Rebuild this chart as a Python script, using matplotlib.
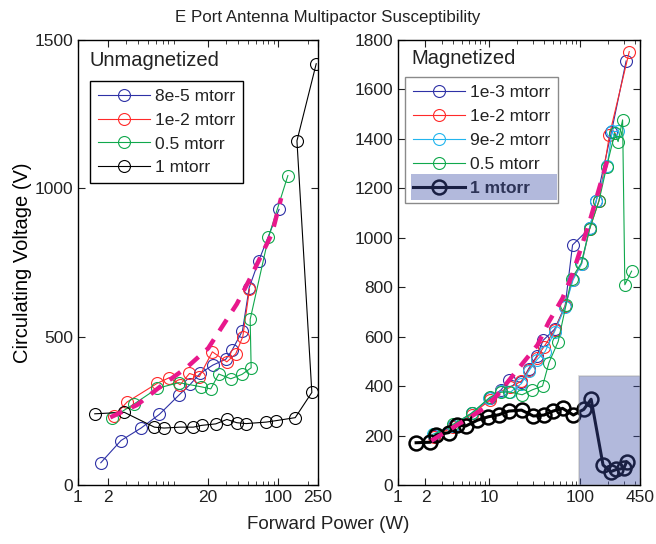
import matplotlib
matplotlib.use('Agg')
import matplotlib.pyplot as plt
from matplotlib.patches import Rectangle
from matplotlib.ticker import NullFormatter

# ---- Unmagnetized (left panel), forward power (W) / voltage (V)
un_8e5_p = [1.69, 2.69, 4.27, 6.5, 10.2, 13.2, 16.6, 22.2, 30, 34.7, 44, 51.3, 64, 102]
un_8e5_v = [75, 150, 192, 238, 303, 339, 376, 404, 424, 455, 520, 665, 756, 929]

un_1e2_p = [2.3, 3.1, 6.2, 8.2, 10.5, 13, 16.3, 22, 30.7, 37.7, 44.3, 51.7]
un_1e2_v = [232, 280, 343, 362, 338, 376, 365, 449, 415, 442, 500, 660]

un_05_p = [2.2, 3.63, 6.21, 10.2, 17, 21.2, 25.5, 33.6, 43.6, 53.7, 52.5, 80, 125]
un_05_v = [227, 273, 326, 345, 331, 324, 374, 358, 373, 395, 558, 835, 1043]

un_1_p = [1.47, 2.9, 5.8, 7.24, 10.5, 14.2, 17.2, 23.8, 30.7, 38.6, 47.9, 75.9, 95.5, 148, 217, 154, 240]
un_1_v = [240, 245, 195, 192, 195, 195, 201, 206, 221, 210, 207, 212, 217, 227, 312, 1160, 1420]

un_fit_p = [2.1, 3.9, 6.6, 12.2, 20, 38.6, 52.5, 87, 107]
un_fit_v = [228, 270, 331, 396, 461, 610, 697, 849, 967]

# ---- Magnetized (right panel)
mg_1e3_p = [2.5, 4.0, 6.4, 10.3, 13.5, 16.5, 22.5, 27, 33, 39, 52, 68, 82, 126, 149, 219, 317]
mg_1e3_v = [200, 240, 290, 350, 385, 425, 415, 470, 520, 585, 630, 725, 971, 1038, 1150, 1429, 1715]

mg_1e2_p = [2.5, 4.0, 6.4, 10.3, 13.5, 17, 22.5, 27, 33, 40, 52, 68, 82, 103, 126, 160, 208, 343]
mg_1e2_v = [195, 235, 285, 345, 380, 395, 420, 465, 515, 560, 625, 725, 830, 895, 1035, 1150, 1416, 1753]

mg_9e2_p = [2.4, 4.0, 6.4, 10, 13.5, 17, 22.5, 27, 33, 41, 52, 68, 83, 103, 126, 149, 196, 223, 259]
mg_9e2_v = [205, 240, 290, 350, 380, 375, 410, 460, 505, 540, 620, 720, 830, 895, 1040, 1150, 1290, 1430, 1430]

mg_05_p = [2.5, 4.0, 6.4, 10.2, 13.5, 16.4, 23, 29.7, 38.4, 45.2, 57, 69.5, 80, 102, 126, 160, 194, 238, 259, 290, 307, 364]
mg_05_v = [205, 245, 290, 355, 375, 377, 365, 385, 400, 495, 580, 728, 835, 897, 1035, 1150, 1288, 1423, 1389, 1477, 810, 865]

mg_1_p = [1.58, 2.26, 2.63, 3.61, 4.46, 5.56, 7.42, 9.8, 12.7, 16.4, 22.6, 30.5, 39.9, 50.1, 63.8, 83.6, 109, 131, 177, 215, 248, 299, 321]
mg_1_v = [171, 173, 202, 212, 241, 239, 262, 276, 284, 299, 303, 279, 283, 299, 310, 283, 306, 347, 81, 54, 63, 67, 94]

mg_fit_p = [2.32, 9.8, 12.7, 20.3, 33.8, 45.2, 63.6, 82.4, 126, 196]
mg_fit_v = [179, 320, 371, 465, 566, 661, 755, 856, 1065, 1310]

# highlighted region (W, V)
hl_p0, hl_p1, hl_v1 = 97, 450, 441

BLUE = '#2e31a6'
RED = '#ff2a2a'
GREEN = '#10a84c'
CYAN = '#22b5ee'
MAGENTA = '#e8188c'
TXT = '#222222'

plt.rcParams['font.family'] = ['Liberation Sans', 'DejaVu Sans']
plt.rcParams['text.color'] = TXT
plt.rcParams['xtick.color'] = TXT
plt.rcParams['ytick.color'] = TXT

fig = plt.figure(figsize=(6.56, 5.44), dpi=100)
ax1 = fig.add_axes([78 / 656, 59 / 544, 240 / 656, 445 / 544])
ax2 = fig.add_axes([398 / 656, 59 / 544, 242 / 656, 445 / 544])

ms = 8.6
kw = dict(marker='o', markerfacecolor='none', markersize=ms, linewidth=0.8, markeredgewidth=0.8)
dash = dict(color=MAGENTA, linewidth=3.2, linestyle=(0, (3.0, 2.3)), zorder=6)

ax1.plot(un_8e5_p, un_8e5_v, color=BLUE, label='8e-5 mtorr', **kw)
ax1.plot(un_1e2_p, un_1e2_v, color=RED, label='1e-2 mtorr', **kw)
ax1.plot(un_05_p, un_05_v, color=GREEN, label='0.5 mtorr', **kw)
ax1.plot(un_1_p, un_1_v, color='black', label='1 mtorr', **kw)
ax1.plot(un_fit_p, un_fit_v, **dash)

ax2.plot(mg_1e3_p, mg_1e3_v, color=BLUE, label='1e-3 mtorr', **kw)
ax2.plot(mg_1e2_p, mg_1e2_v, color=RED, label='1e-2 mtorr', **kw)
ax2.plot(mg_9e2_p, mg_9e2_v, color=CYAN, label='9e-2 mtorr', **kw)
ax2.plot(mg_05_p, mg_05_v, color=GREEN, label='0.5 mtorr', **kw)
ax2.plot(mg_1_p, mg_1_v, color='black', marker='o', markerfacecolor='none',
         markersize=10, markeredgewidth=1.8, linewidth=2.2, label='1 mtorr')
ax2.plot(mg_fit_p, mg_fit_v, **dash)

ax2.add_patch(Rectangle((hl_p0, 0), hl_p1 - hl_p0, hl_v1, facecolor='#4050a8', alpha=0.4,
                        edgecolor='#999999', linewidth=1.2, zorder=8))

for ax in (ax1, ax2):
    ax.set_xscale('log')
    ax.tick_params(which='both', direction='in', top=True, right=True, labelsize=12.5)
    ax.tick_params(which='major', length=5, width=0.8)
    ax.tick_params(which='minor', length=3, width=0.6)
    ax.xaxis.set_minor_formatter(NullFormatter())
    for s in ax.spines.values():
        s.set_linewidth(1.0)

ax1.set_xlim(1, 250)
ax1.set_ylim(0, 1500)
ax1.set_xticks([1, 2, 20, 100, 250])
ax1.set_xticklabels(['1', '2', '20', '100', '250'])
ax1.set_yticks([0, 500, 1000, 1500])

ax2.set_xlim(1, 450)
ax2.set_ylim(0, 1800)
ax2.set_xticks([1, 2, 10, 100, 450])
ax2.set_xticklabels(['1', '2', '10', '100', '450'])
ax2.set_yticks(range(0, 1801, 200))

ax1.set_ylabel('Circulating Voltage (V)', fontsize=14.5, labelpad=2)
fig.text(0.5, 0.035, 'Forward Power (W)', ha='center', va='center', fontsize=13.5)
fig.text(0.5, 0.967, 'E Port Antenna Multipactor Susceptibility', ha='center', va='center', fontsize=12.2)

ax1.text(0.046, 0.942, 'Unmagnetized', transform=ax1.transAxes, fontsize=14.5, va='baseline')
ax2.text(0.057, 0.945, 'Magnetized', transform=ax2.transAxes, fontsize=14.5, va='baseline')

leg_kw = dict(fontsize=12.5, fancybox=False, framealpha=1, handlelength=3.0,
              handletextpad=0.3, labelspacing=0.5, borderpad=0.45, borderaxespad=0,
              loc='upper left')
l1 = ax1.legend(bbox_to_anchor=(0.05, 0.908), edgecolor='black', **leg_kw)
l1.get_frame().set_linewidth(1.0)
l2 = ax2.legend(bbox_to_anchor=(0.029, 0.916), edgecolor='#8a8a8a', **leg_kw)
l2.get_frame().set_linewidth(1.0)
l2.set_zorder(9)
l2.get_texts()[-1].set_fontweight('bold')

# tint over the "1 mtorr" legend entry
ax2.add_patch(Rectangle((0.053, 0.640), 0.605, 0.058, transform=ax2.transAxes,
                        facecolor='#4050a8', alpha=0.4, edgecolor='none', zorder=10))

plt.savefig('out.png', dpi=100)
plt.close()
